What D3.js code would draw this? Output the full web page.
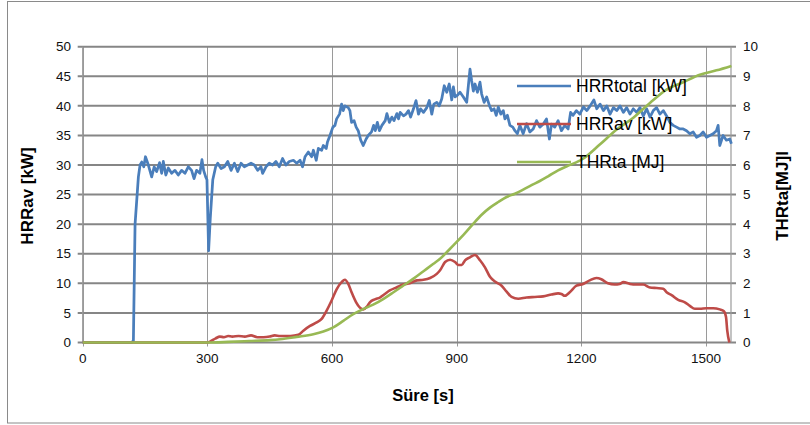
<!DOCTYPE html>
<html><head><meta charset="utf-8">
<script src="https://cdn.jsdelivr.net/npm/d3@7/dist/d3.min.js"></script>
<style>
html,body{margin:0;padding:0;background:#fff;}
svg{display:block;font-family:"Liberation Sans",Arial,sans-serif;}
</style></head>
<body><svg id="c" width="810" height="425"></svg>
<script>
// ---- data ----
const xTicks = [0, 300, 600, 900, 1200, 1500];
const leftTicks = [0, 5, 10, 15, 20, 25, 30, 35, 40, 45, 50];
const rightTicks = [0, 1, 2, 3, 4, 5, 6, 7, 8, 9, 10];
const seriesNames = ["HRRtotal [kW]", "HRRav [kW]", "THRta [MJ]"];

const hrrTotalT = [0,60,118,122,126,134,138,142,147,151,158,166,172,178,185,190,194,200,206,214,222,230,238,246,254,262,268,274,282,287,291,296,299,303,307,313,320,325,333,341,349,357,365,373,381,389,397,405,413,421,429,433,441,449,457,465,473,481,489,497,
507,515,523,529,535,543,551,555,562,567,575,579,586,589,595,602,607,611,618,623,627,631,639,643,647,653,658,663,669,675,682,687,695,700,704,709,714,720,728,732,738,744,749,756,760,764,772,778,784,789,796,802,808,813,820,828,834,840,845,852,858,864,870,876,882,888,892,896,902,908,916,924,928,932,936,940,944,950,956,960,966,972,979,984,990,995,1000,1006,1012,1016,1022,1028,1035,1040,1046,1052,1060,1068,1076,
1084,1092,1100,1108,1116,1123,1128,1136,1144,1152,1160,1168,1174,1180,1188,1196,1205,1213,1221,1230,1237,1245,1253,1261,1269,1277,1285,1293,1301,1309,1317,1325,1333,1341,1349,1357,1365,1373,1381,1389,1397,1405,1413,1421,1429,1437,1445,1453,1461,1469,1477,1485,1493,1501,1509,1517,1525,1529,1533,1541,1549,1557,1561];
const hrrTotalV = [0,0,0,0.3,20,28,30,30.5,29.7,31.4,30,28,29.7,28.9,30.4,28.6,30.6,28.3,29.5,28.6,29.1,28.3,29.1,28.6,29.7,29.1,27.7,29.1,28.6,30.9,29.1,28,27.5,15.5,21,27.5,29.7,30.3,29.4,29.7,30.6,29.1,30.3,28.9,30.3,29.7,30,30.3,30,29.1,29.7,28.6,29.7,30.3,30,30.6,29.7,31.1,30,30.6,
30.8,30.3,30.8,29.7,31.4,32.2,31.4,32.5,30.8,32.8,32.5,33.3,32.8,33.9,35,36.4,36.7,37.8,38.6,40.3,39.2,40,39.7,39.2,37.2,37.5,36.4,35.8,34.2,33.3,34.4,35,35.6,36.7,35.8,37.2,35.8,36.7,37.5,38.7,37.2,38.1,37.5,38.7,37.8,38.9,38.3,38.6,39.2,38.1,39.5,40.9,38.6,39.5,38.9,39.7,40.9,38.6,40.3,40.6,40,41.2,43.4,42.3,43.7,41,43.2,41.5,41.8,42.3,41.5,40.6,43.4,46.2,44.2,42.5,43.7,42.3,44,42,40.6,41.5,40,39.2,39.5,38.4,39.8,38.6,39.2,37.8,38.4,36.7,36.4,35.8,35.3,36.7,35.3,37,35.6,
36.1,37.5,36.4,36.9,37.8,34.4,36.9,36.4,37.5,35.8,36.7,36.1,38.9,38.4,39.2,38.6,39.8,39.2,40,41,39.5,40.3,39.2,40,38.6,39.7,39.2,40,38.9,39.7,38.6,39.5,38.9,39.7,38.3,39.5,38.1,39.2,39.7,38.6,39.2,38.3,37.2,36.7,36.4,36.1,36.1,35.8,35.3,35.6,34.7,35,35.6,34.7,35,35.3,35.8,36.7,33.3,35,34.2,34.4,33.6];

const hrrAvT = [0,300,305,310,320,330,340,350,360,375,390,405,420,435,450,462,475,500,519,531,547,563,575,587,599,611,623,631,639,647,658,667,675,683,691,703,715,727,739,755,771,787,804,820,836,852,860,872,884,896,904,912,920,932,944,956,968,980,992,1008,1020,1032,1048,1068,1088,1108,1128,1144,1152,1160,1172,1188,1204,1220,1236,1248,1264,1280,1292,1301,1317,1333,1349,1365,1381,1397,1405,1417,1433,1449,1461,1473,1485,1501,1517,1533,1543,1548,1551,1556];
const hrrAvV = [0,0,0.1,0.3,0.7,1.0,0.9,1.1,1.0,1.1,1.0,1.2,0.9,0.9,1.0,1.2,1.1,1.1,1.3,2,2.8,3.4,4,5.4,7.1,9,10.2,10.6,9.9,8.5,6.8,5.9,5.6,6,6.8,7.3,7.6,8.2,8.8,9.3,9.8,10,10.5,10.6,10.9,11.6,12.2,13.6,14,13.6,13.1,13.1,13.9,14.4,14.8,13.9,12.7,11.1,10.3,9.6,8.6,7.7,7.4,7.6,7.7,7.8,8.1,8.3,8.2,7.9,8.5,9.6,9.9,10.5,10.9,10.7,10,9.8,9.9,10.2,9.9,9.8,9.8,9.3,9.2,9.1,8.5,8,7.2,6.8,6.2,5.7,5.7,5.8,5.8,5.6,5.3,4.3,2,0];

const thrT = [0,300,350,400,450,475,515,555,579,603,627,651,675,699,723,747,771,795,820,844,860,880,900,920,940,960,980,1000,1020,1040,1060,1080,1100,1120,1144,1164,1205,1245,1285,1325,1365,1405,1445,1485,1525,1561];
const thrV = [0,0,0.02,0.05,0.08,0.11,0.19,0.28,0.37,0.51,0.73,0.96,1.13,1.28,1.47,1.69,1.92,2.15,2.41,2.66,2.83,3.11,3.4,3.7,4.02,4.32,4.56,4.75,4.92,5.03,5.17,5.32,5.46,5.62,5.82,5.95,6.22,6.7,7.2,7.6,8.1,8.55,8.8,9.05,9.2,9.35];

const colors = ["#4A7EBB", "#BE4B48", "#98B954"];

// ---- layout ----
const svg = d3.select("#c");
const X0 = 82.7, X1 = 731, Y0 = 342.5, Y1 = 46.7;
const x = d3.scaleLinear().domain([0, 1560]).range([X0, X1]);
const yL = d3.scaleLinear().domain([0, 50]).range([Y0, Y1]);
const yR = d3.scaleLinear().domain([0, 10]).range([Y0, Y1]);

// outer frame
svg.append("rect").attr("x", 7.5).attr("y", 1.5).attr("width", 830).attr("height", 421.5)
  .attr("fill", "none").attr("stroke", "#8a8a8a").attr("stroke-width", 1);

// vertical gridlines
svg.append("g").selectAll("line").data(xTicks).join("line")
  .attr("x1", d => Math.round(x(d)) + 0.5).attr("x2", d => Math.round(x(d)) + 0.5)
  .attr("y1", Y1).attr("y2", Y0 + 4)
  .attr("stroke", "#9a9a9a").attr("stroke-width", 1);

// horizontal gridlines
svg.append("g").selectAll("line").data(leftTicks).join("line")
  .attr("x1", X0 - 5).attr("x2", X1 + 5)
  .attr("y1", d => yL(d)).attr("y2", d => yL(d))
  .attr("stroke", "#868686").attr("stroke-width", 2);

// axis lines
svg.append("line").attr("x1", X0).attr("x2", X0).attr("y1", Y1).attr("y2", Y0)
  .attr("stroke", "#9a9a9a").attr("stroke-width", 1.2);
svg.append("line").attr("x1", X1).attr("x2", X1).attr("y1", Y1).attr("y2", Y0)
  .attr("stroke", "#9a9a9a").attr("stroke-width", 1.2);

// tick labels
const tickFont = 13.5;
svg.append("g").selectAll("text").data(leftTicks).join("text")
  .attr("x", 71).attr("y", d => yL(d)).attr("dy", "0.35em")
  .attr("text-anchor", "end").attr("font-size", tickFont).attr("fill", "#111")
  .text(d => d);
svg.append("g").selectAll("text").data(rightTicks).join("text")
  .attr("x", 743).attr("y", d => yR(d)).attr("dy", "0.35em")
  .attr("text-anchor", "start").attr("font-size", tickFont).attr("fill", "#111")
  .text(d => d);
svg.append("g").selectAll("text").data(xTicks).join("text")
  .attr("x", d => x(d)).attr("y", 363)
  .attr("text-anchor", "middle").attr("font-size", tickFont).attr("fill", "#111")
  .text(d => d);

// axis titles
svg.append("text").attr("transform", "translate(33,196) rotate(-90)")
  .attr("text-anchor", "middle").attr("font-size", 17).attr("font-weight", "bold")
  .text("HRRav [kW]");
svg.append("text").attr("transform", "translate(788,196) rotate(-90)")
  .attr("text-anchor", "middle").attr("font-size", 17).attr("font-weight", "bold")
  .text("THRta[MJ]I");
svg.append("text").attr("x", 423).attr("y", 401)
  .attr("text-anchor", "middle").attr("font-size", 16.5).attr("font-weight", "bold")
  .text("Süre [s]");

// series
const mk = (T, V) => T.map((t, i) => [t, V[i]]);
const lineL = d3.line().x(d => x(d[0])).y(d => yL(d[1]));
const lineR = d3.line().x(d => x(d[0])).y(d => yR(d[1])).curve(d3.curveMonotoneX);
const lineLs = d3.line().x(d => x(d[0])).y(d => yL(d[1])).curve(d3.curveMonotoneX);

svg.append("path").datum(mk(hrrTotalT, hrrTotalV)).attr("d", lineL)
  .attr("fill", "none").attr("stroke", colors[0]).attr("stroke-width", 2.75)
  .attr("stroke-linejoin", "round");
svg.append("path").datum(mk(hrrAvT, hrrAvV)).attr("d", lineLs)
  .attr("fill", "none").attr("stroke", colors[1]).attr("stroke-width", 2.6)
  .attr("stroke-linejoin", "round");
svg.append("path").datum(mk(thrT, thrV)).attr("d", lineR)
  .attr("fill", "none").attr("stroke", colors[2]).attr("stroke-width", 2.6)
  .attr("stroke-linejoin", "round");

// legend
const legY = [86, 124, 162];
const leg = svg.append("g").selectAll("g").data(seriesNames).join("g")
  .attr("transform", (d, i) => `translate(517,${legY[i]})`);
leg.append("line").attr("x1", 0).attr("x2", 54).attr("y1", 0).attr("y2", 0)
  .attr("stroke", (d, i) => colors[i]).attr("stroke-width", 2.6);
leg.append("text").attr("x", 59).attr("y", 0).attr("dy", "0.35em")
  .attr("font-size", 17.5).attr("fill", "#000").text(d => d);
</script>
</body></html>
